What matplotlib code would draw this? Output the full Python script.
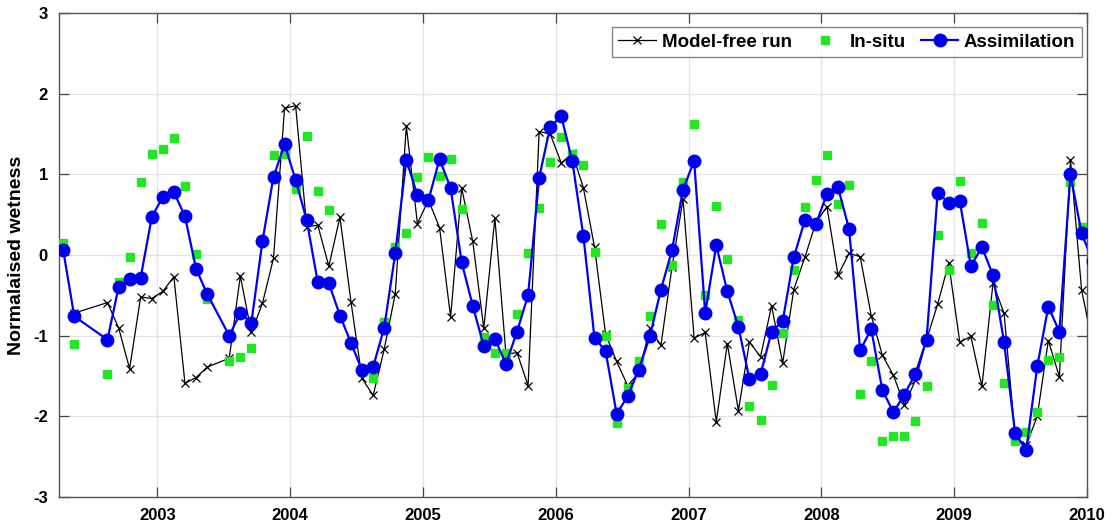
import numpy as np
import pandas as pd
import matplotlib
matplotlib.use('Agg')
import matplotlib.pyplot as plt

plt.rcParams['font.family'] = ['Liberation Sans', 'DejaVu Sans']
plt.rcParams['font.weight'] = 'bold'
plt.rcParams['axes.unicode_minus'] = False

nan = np.nan

# monthly values, Apr 2002 .. Jan 2010
months = pd.date_range('2002-04-01', '2010-01-01', freq='MS')

model_free = [
    nan, -0.72, nan, nan, -0.59, -0.90, -1.41, -0.52, -0.54,                    # 2002 Apr-Dec
    -0.45, -0.27, -1.59, -1.52, -1.39, nan, -1.28, -0.26, -0.96, -0.60, -0.04, 1.82,  # 2003
    1.85, 0.35, 0.37, -0.14, 0.47, -0.58, -1.53, -1.74, -1.17, -0.48, 1.60, 0.39,    # 2004
    0.68, 0.34, -0.77, 0.83, 0.17, -0.91, 0.46, -1.23, -1.21, -1.62, 1.53, 1.50,     # 2005
    1.14, 1.26, 0.83, 0.10, -0.98, -1.32, -1.62, -1.46, -0.91, -1.12, -0.15, 0.69,   # 2006
    -1.03, -0.96, -2.07, -1.10, -1.93, -1.08, -1.26, -0.63, -1.34, -0.43, -0.03, 0.40,  # 2007
    0.60, -0.25, 0.02, -0.02, -0.75, -1.24, -1.49, -1.86, -1.55, -1.05, -0.61, -0.10,  # 2008
    -1.08, -1.01, -1.63, -0.35, -0.72, -2.25, -2.36, -2.00, -1.06, -1.51, 1.18, -0.43,  # 2009
    -1.10,                                                                            # 2010 Jan
]

in_situ = [
    0.15, -1.10, nan, nan, -1.48, -0.34, -0.02, 0.91, 1.25,
    1.32, 1.45, 0.86, 0.01, -0.54, nan, -1.31, -1.27, -1.15, nan, 1.24, 1.25,
    0.82, 1.47, 0.79, 0.56, nan, nan, -1.45, -1.53, -0.83, 0.10, 0.27, 0.97,
    1.21, 0.98, 1.19, 0.57, nan, -1.02, -1.21, -1.22, -0.73, 0.02, 0.58, 1.15,
    1.46, 1.25, 1.12, 0.04, -1.00, -2.08, -1.65, -1.32, -0.76, 0.38, -0.12, 0.91,
    1.63, -0.50, 0.61, -0.05, -0.81, -1.87, -2.04, -1.61, -0.97, -0.19, 0.60, 0.93,
    1.24, 0.63, 0.87, -1.72, -1.31, -2.30, -2.25, -2.25, -2.06, -1.62, 0.25, -0.19,
    0.92, 0.03, 0.40, -0.62, -1.59, -2.30, -2.20, -1.95, -1.30, -1.27, 0.90, 0.35,
    nan,
]

assimilation = [
    0.06, -0.76, nan, nan, -1.05, -0.40, -0.30, -0.28, 0.47,
    0.72, 0.78, 0.48, -0.17, -0.48, nan, -1.00, -0.72, -0.84, 0.17, 0.97, 1.37,
    0.93, 0.43, -0.34, -0.35, -0.75, -1.09, -1.43, -1.39, -0.90, 0.02, 1.18, 0.74,
    0.68, 1.19, 0.83, -0.09, -0.63, -1.13, -1.04, -1.35, -0.95, -0.50, 0.96, 1.59,
    1.72, 1.16, 0.23, -1.03, -1.19, -1.97, -1.75, -1.42, -1.01, -0.43, 0.06, 0.81,
    1.17, -0.72, 0.12, -0.45, -0.89, -1.54, -1.48, -0.95, -0.82, -0.03, 0.43, 0.38,
    0.76, 0.84, 0.32, -1.18, -0.92, -1.67, -1.95, -1.73, -1.47, -1.05, 0.77, 0.65,
    0.67, -0.14, 0.10, -0.25, -1.08, -2.21, -2.42, -1.38, -0.64, -0.95, 1.00, 0.27,
    -0.07,
]

year_ticks = list(range(2003, 2011))

df = pd.DataFrame({'model': model_free, 'insitu': in_situ, 'assim': assimilation},
                  index=months)
# mid-month position in decimal years
df['t'] = df.index.year + (df.index.month - 0.5) / 12.0

fig = plt.figure(figsize=(11.13, 5.29), dpi=100)
ax = fig.add_axes([0.053, 0.0605, 0.9237, 0.9149])

m = df.dropna(subset=['model'])
ax.plot(m['t'], m['model'], color='black', lw=0.9, marker='x', ms=6, mew=0.9,
        label='Model-free run', zorder=3)
g = df.dropna(subset=['insitu'])
ax.plot(g['t'], g['insitu'], ls='none', marker='s', ms=6, color='#22e622',
        mec='#22e622', label='In-situ', zorder=4)
a = df.dropna(subset=['assim'])
ax.plot(a['t'], a['assim'], color='#0000f0', lw=1.6, marker='o', ms=9,
        label='Assimilation', zorder=5)

ax.set_xlim(2002.26, 2010.0)
ax.set_ylim(-3, 3)
ax.set_xticks(year_ticks)
ax.set_yticks(range(-3, 4))
ax.set_ylabel('Normalaised wetness', fontsize=14, fontweight='bold', labelpad=6)

ax.grid(True, color='#e3e3e3', lw=0.9)
ax.set_axisbelow(True)
ax.tick_params(direction='in', top=True, right=True, length=7, width=0.9,
               labelsize=12, color='#444444', pad=8)
for lab in ax.get_xticklabels() + ax.get_yticklabels():
    lab.set_fontweight('bold')
for s in ax.spines.values():
    s.set_color('#555555')
    s.set_linewidth(1.0)

leg = ax.legend(loc='upper right', ncol=3, fontsize=13.5, frameon=True,
                fancybox=False, edgecolor='#666666', handlelength=2.0,
                handletextpad=0.3, columnspacing=0.8, borderpad=0.35,
                borderaxespad=0, bbox_to_anchor=(0.995, 0.971))
leg.get_frame().set_linewidth(1.0)
for txt in leg.get_texts():
    txt.set_fontweight('bold')

fig.savefig('out.png', dpi=100)
